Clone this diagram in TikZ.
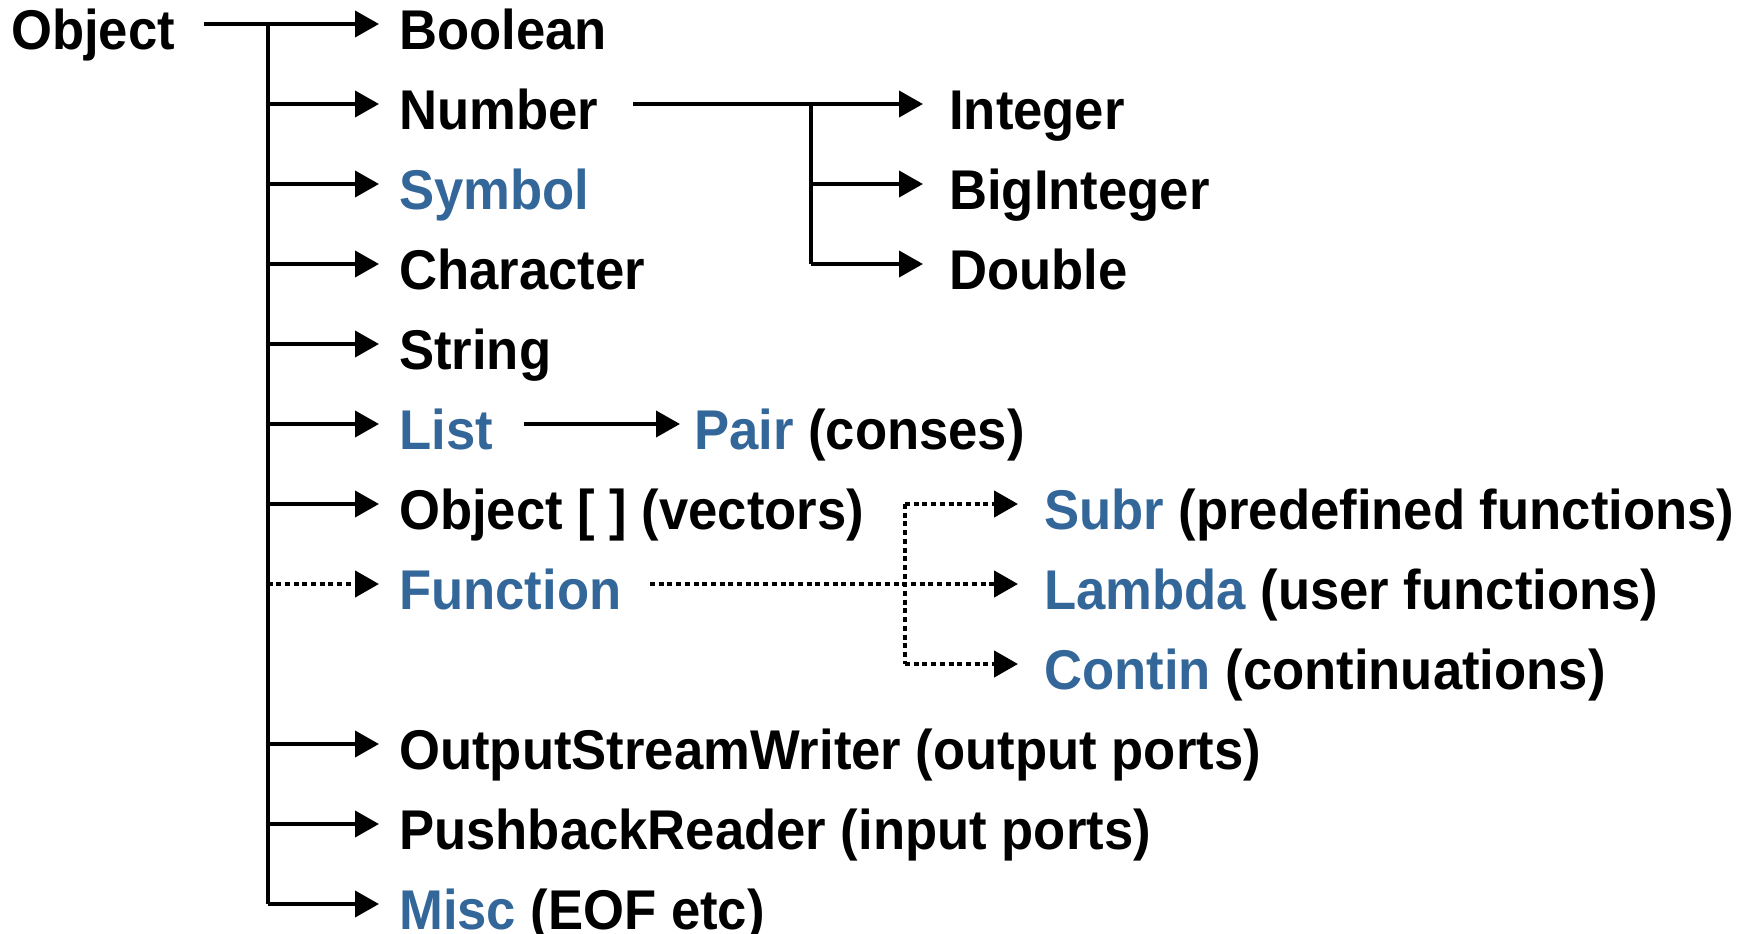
\documentclass[tikz,border=0pt]{standalone}
\usepackage{fontspec}
\setmainfont{Liberation Sans}[FakeStretch=0.94]
\usetikzlibrary{arrows.meta}
\definecolor{kblue}{RGB}{51,102,153}
\begin{document}
\begin{tikzpicture}[x=1pt,y=-1pt,
  lbl/.style={anchor=base west, inner sep=0pt, font=\fontsize{56}{62}\selectfont\bfseries},
  hi/.style={text=kblue},
  conn/.style={line width=4pt, -{Triangle[length=24pt,width=26pt]}},
  plain/.style={line width=4pt},
  dotline/.style={line width=4.5pt, dash pattern=on 5pt off 3.7pt},
  dotconn/.style={dotline, -{Triangle[length=24pt,width=26pt]}}]
\useasboundingbox (0,0) rectangle (1748,934);
% coordinates
\coordinate (trunkTop) at (267.5,24);
\coordinate (trunkBot) at (267.5,904);
\coordinate (objStart) at (204,24);
\foreach \n/\k in {r0/0,r1/1,r2/2,r3/3,r4/4,r5/5,r6/6,r7/7,r9/9,r10/10,r11/11}
  \coordinate (\n) at (379,24+80*\k);
% main labels
\node[lbl] (Object) at (11,49.5) {Object};
\node[lbl] (Boolean) at (399,49.5) {Boolean};
\node[lbl] (Number) at (399,129.5) {Number};
\node[lbl,hi] (Symbol) at (399,209.5) {Symbol};
\node[lbl] (Character) at (399,289.5) {Character};
\node[lbl] (String) at (399,369.5) {String};
\node[lbl,hi] (List) at (399,449.5) {List};
\node[lbl] (Vec) at (399,529.5) {Object [ ] (vectors)};
\node[lbl,hi] (Function) at (399,609.5) {Function};
\node[lbl] (OSW) at (399,769.5) {OutputStreamWriter (output ports)};
\node[lbl] (PBR) at (399,849.5) {PushbackReader (input ports)};
\node[lbl] (Misc) at (399,929.5) {\textcolor{kblue}{Misc} (EOF etc)};
% number children
\node[lbl] (Integer) at (949,129.5) {Integer};
\node[lbl] (BigInteger) at (949,209.5) {BigInteger};
\node[lbl] (Double) at (949,289.5) {Double};
% list child
\node[lbl] (Pair) at (694,449.5) {\textcolor{kblue}{Pair} (conses)};
% function children
\node[lbl] (Subr) at (1044,529.5) {\textcolor{kblue}{Subr} (predefined functions)};
\node[lbl] (Lambda) at (1044,609.5) {\textcolor{kblue}{Lambda} (user functions)};
\node[lbl] (Contin) at (1044,689.5) {\textcolor{kblue}{Contin} (continuations)};
% trunk
\draw[conn] (objStart) -- (r0);
\draw[plain] (trunkTop) -- (trunkBot);
\foreach \n in {r1,r2,r3,r4,r5,r6,r9,r10,r11}
  \draw[conn] (trunkTop |- \n) -- (\n);
\draw[dotconn] (trunkTop |- r7) -- (r7);
% number subtree
\coordinate (numStart) at (633,104);
\coordinate (numJ) at (810.5,104);
\coordinate (nI) at (923,104);
\coordinate (nB) at (923,184);
\coordinate (nD) at (923,264);
\draw[conn] (numStart) -- (nI);
\draw[plain] (numJ) -- (numJ |- nD);
\draw[conn] (numJ |- nB) -- (nB);
\draw[conn] (numJ |- nD) -- (nD);
% list subtree
\coordinate (listStart) at (524,424);
\coordinate (lP) at (680,424);
\draw[conn] (listStart) -- (lP);
% function subtree
\coordinate (funStart) at (650,584);
\coordinate (funJ) at (905,584);
\coordinate (fS) at (1018,504);
\coordinate (fL) at (1018,584);
\coordinate (fC) at (1018,664);
\draw[dotconn] (funStart) -- (fL);
\draw[dotline] (funJ |- fS) -- (funJ |- fC);
\draw[dotconn] (funJ |- fS) -- (fS);
\draw[dotconn] (funJ |- fC) -- (fC);
\end{tikzpicture}
\end{document}
